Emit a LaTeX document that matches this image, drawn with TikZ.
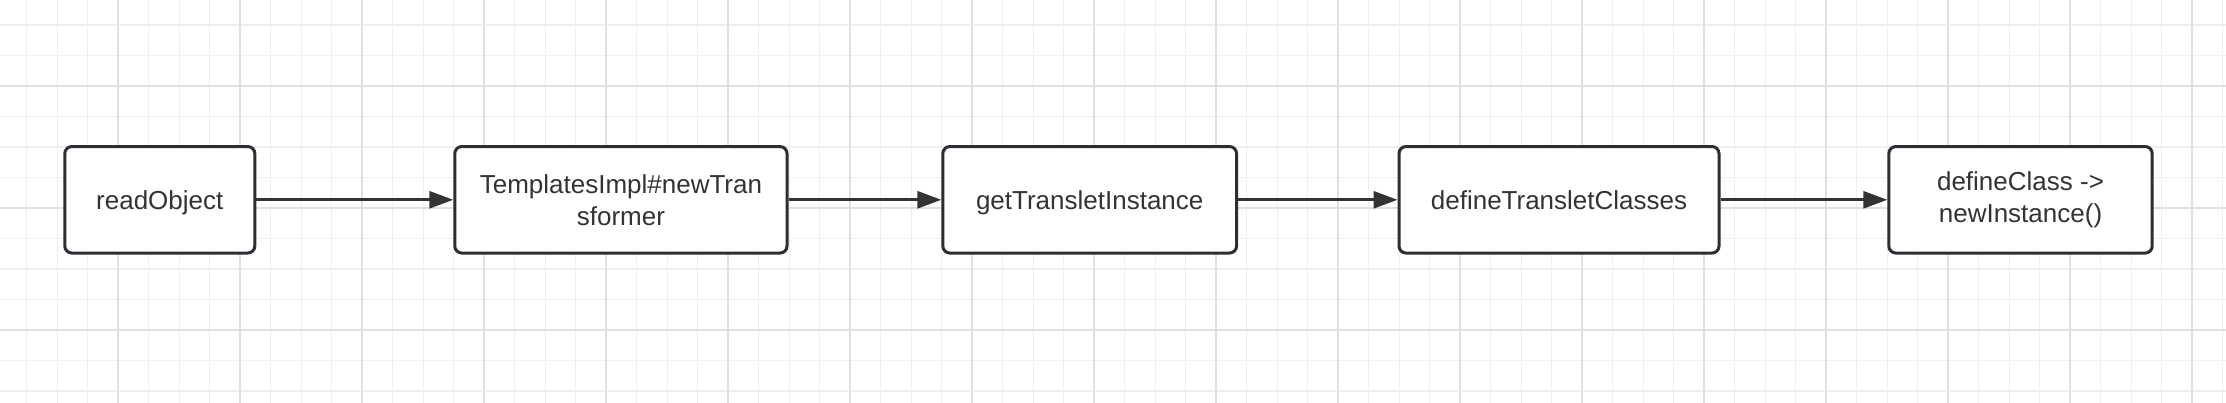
\documentclass[tikz,border=0pt]{standalone}
\usepackage{fontspec}
\setmainfont{Liberation Sans}
\usetikzlibrary{arrows.meta}
\definecolor{gridminor}{HTML}{EFEFEF}
\definecolor{gridmajor}{HTML}{E0E0E0}
\definecolor{boxline}{HTML}{2B2F33}
\definecolor{ink}{HTML}{333333}
\tikzset{
  callbox/.style={draw=boxline,fill=white,line width=1.5pt,rounded corners=3.5pt,
    minimum height=53.25pt,align=center,text=ink,
    font=\fontsize{13pt}{16pt}\selectfont},
  oneline/.style={text depth=0pt},
  callarrow/.style={draw=ink,line width=1.35pt,-{Triangle[length=12pt,width=8.5pt]}}
}
\begin{document}
\begin{tikzpicture}[x=0.5pt,y=0.5pt]
 \useasboundingbox (0,0) rectangle (2226,402);
 \fill[white] (0,0) rectangle (2226,402);
 % background grid
 \begin{scope}
 \clip (0,0) rectangle (2226,402);
 \draw[shift={(-3.7,-50)},step=30.5,gridminor,line width=0.65pt](0,0) grid (2300,500);
 \draw[shift={(-3.7,-50)},step=122,gridmajor,line width=1pt](0,0) grid (2300,500);
 \end{scope}
 % call chain
 \node[callbox,oneline,minimum width=95pt] (read) at (159.8,202.2) {readObject};
 \node[callbox,minimum width=166.1pt] (trans) at (620.9,202.2) {TemplatesImpl\#newTran\\sformer};
 \node[callbox,oneline,minimum width=146.85pt] (inst) at (1089.7,202.2) {getTransletInstance};
 \node[callbox,oneline,minimum width=160pt] (defs) at (1559,202.2) {defineTransletClasses};
 \node[callbox,minimum width=131.7pt] (newi) at (2020.5,202.2) {defineClass ->\\newInstance()};
 \draw[callarrow] (read.east) -- (trans.west);
 \draw[callarrow] (trans.east) -- (inst.west);
 \draw[callarrow] (inst.east) -- (defs.west);
 \draw[callarrow] (defs.east) -- (newi.west);
\end{tikzpicture}
\end{document}
